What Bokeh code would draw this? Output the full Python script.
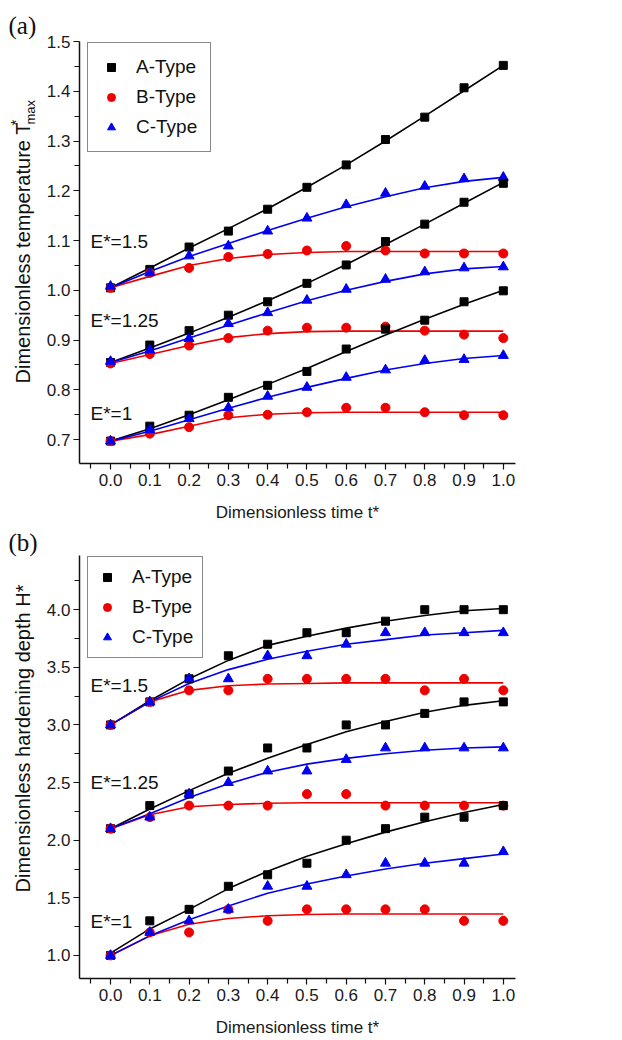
import math
from bokeh.plotting import figure
from bokeh.layouts import column, row
from bokeh.models import Range1d, FixedTicker, NumeralTickFormatter, Label, Legend, LegendItem, Title
from bokeh.embed import file_html
from bokeh.resources import INLINE

# ---------------- data ----------------
t = [0.0, 0.1, 0.2, 0.3, 0.4, 0.5, 0.6, 0.7, 0.8, 0.9, 1.0]

x_major = [0.0, 0.1, 0.2, 0.3, 0.4, 0.5, 0.6, 0.7, 0.8, 0.9, 1.0]
x_minor = [-0.05, 0.05, 0.15, 0.25, 0.35, 0.45, 0.55, 0.65, 0.75, 0.85, 0.95]
ya_major = [0.7, 0.8, 0.9, 1.0, 1.1, 1.2, 1.3, 1.4, 1.5]
ya_minor = [0.75, 0.85, 0.95, 1.05, 1.15, 1.25, 1.35, 1.45]
yb_major = [1.0, 1.5, 2.0, 2.5, 3.0, 3.5, 4.0]
yb_minor = [1.25, 1.75, 2.25, 2.75, 3.25, 3.75, 4.25]

series_names = ["A-Type", "B-Type", "C-Type"]
e_labels = ["E*=1.5", "E*=1.25", "E*=1"]

# (a) dimensionless max temperature
a_A15 = [1.005, 1.042, 1.087, 1.119, 1.163, 1.207, 1.252, 1.303, 1.348, 1.407, 1.452]
a_A15_fit = [1.005, 1.045, 1.085, 1.124, 1.164, 1.207, 1.252, 1.300, 1.350, 1.401, 1.452]
a_B15 = [1.005, 1.035, 1.045, 1.067, 1.073, 1.080, 1.089, 1.080, 1.074, 1.074, 1.074]
a_B15_fit = [1.005, 1.028, 1.050, 1.064, 1.072, 1.076, 1.078, 1.078, 1.078, 1.078, 1.078]
a_C15 = [1.008, 1.035, 1.069, 1.089, 1.119, 1.145, 1.172, 1.195, 1.209, 1.224, 1.227]
a_C15_fit = [1.005, 1.038, 1.068, 1.094, 1.120, 1.145, 1.168, 1.188, 1.206, 1.219, 1.227]

a_A125 = [0.855, 0.890, 0.919, 0.950, 0.977, 1.014, 1.051, 1.098, 1.133, 1.177, 1.215]
a_A125_fit = [0.855, 0.884, 0.914, 0.946, 0.979, 1.014, 1.052, 1.092, 1.133, 1.175, 1.217]
a_B125 = [0.853, 0.872, 0.889, 0.904, 0.919, 0.925, 0.925, 0.927, 0.919, 0.911, 0.904]
a_B125_fit = [0.853, 0.871, 0.889, 0.905, 0.913, 0.917, 0.918, 0.918, 0.918, 0.918, 0.918]
a_C125 = [0.857, 0.880, 0.903, 0.933, 0.955, 0.980, 1.002, 1.022, 1.037, 1.045, 1.047]
a_C125_fit = [0.855, 0.878, 0.904, 0.930, 0.955, 0.979, 1.000, 1.018, 1.033, 1.043, 1.048]

a_A1 = [0.697, 0.727, 0.749, 0.785, 0.809, 0.837, 0.882, 0.922, 0.940, 0.977, 0.999]
a_A1_fit = [0.697, 0.722, 0.750, 0.780, 0.811, 0.843, 0.877, 0.910, 0.942, 0.972, 1.000]
a_B1 = [0.697, 0.712, 0.725, 0.749, 0.750, 0.755, 0.764, 0.764, 0.755, 0.749, 0.749]
a_B1_fit = [0.697, 0.710, 0.727, 0.744, 0.751, 0.754, 0.755, 0.755, 0.755, 0.755, 0.755]
a_C1 = [0.697, 0.720, 0.742, 0.764, 0.787, 0.805, 0.825, 0.840, 0.859, 0.861, 0.869]
a_C1_fit = [0.697, 0.717, 0.740, 0.763, 0.785, 0.805, 0.823, 0.840, 0.853, 0.863, 0.869]

# (b) dimensionless hardening depth
b_A15 = [3.0, 3.2, 3.4, 3.6, 3.7, 3.8, 3.8, 3.9, 4.0, 4.0, 4.0]
b_A15_fit = [3.0, 3.21, 3.40, 3.56, 3.69, 3.77, 3.84, 3.90, 3.95, 3.99, 4.01]
b_B15 = [3.0, 3.2, 3.3, 3.3, 3.4, 3.4, 3.4, 3.4, 3.3, 3.4, 3.3]
b_B15_fit = [3.0, 3.2, 3.30, 3.34, 3.355, 3.36, 3.365, 3.365, 3.365, 3.365, 3.365]
b_C15 = [3.0, 3.2, 3.4, 3.4, 3.6, 3.6, 3.7, 3.8, 3.8, 3.8, 3.8]
b_C15_fit = [3.0, 3.2, 3.36, 3.48, 3.57, 3.64, 3.70, 3.74, 3.78, 3.80, 3.82]

b_A125 = [2.1, 2.3, 2.4, 2.6, 2.8, 2.8, 3.0, 3.0, 3.1, 3.2, 3.2]
b_A125_fit = [2.1, 2.27, 2.43, 2.58, 2.71, 2.83, 2.94, 3.03, 3.11, 3.17, 3.21]
b_B125 = [2.1, 2.2, 2.3, 2.3, 2.3, 2.4, 2.4, 2.3, 2.3, 2.3, 2.3]
b_B125_fit = [2.1, 2.22, 2.29, 2.31, 2.32, 2.325, 2.325, 2.325, 2.325, 2.325, 2.325]
b_C125 = [2.1, 2.2, 2.4, 2.5, 2.6, 2.6, 2.7, 2.8, 2.8, 2.8, 2.8]
b_C125_fit = [2.1, 2.23, 2.37, 2.49, 2.59, 2.66, 2.71, 2.75, 2.78, 2.80, 2.81]

b_A1 = [1.0, 1.3, 1.4, 1.6, 1.7, 1.8, 2.0, 2.1, 2.2, 2.2, 2.3]
b_A1_fit = [1.02, 1.23, 1.40, 1.58, 1.73, 1.86, 1.97, 2.07, 2.16, 2.24, 2.31]
b_B1 = [1.0, 1.2, 1.2, 1.4, 1.3, 1.4, 1.4, 1.4, 1.4, 1.3, 1.3]
b_B1_fit = [1.0, 1.17, 1.27, 1.32, 1.345, 1.355, 1.36, 1.36, 1.36, 1.36, 1.36]
b_C1 = [1.0, 1.2, 1.3, 1.4, 1.6, 1.6, 1.7, 1.8, 1.8, 1.8, 1.9]
b_C1_fit = [1.0, 1.17, 1.31, 1.43, 1.54, 1.62, 1.69, 1.75, 1.80, 1.84, 1.88]

# ---------------- styling ----------------
FONT = "Liberation Sans"
COLORS = ["black", "#ee0000", "#0000ee"]
MARKERS = ["square", "circle", "triangle"]
SIZES = [8, 9, 10]

LAB_W = 40          # width of the narrow strip holding panel tag + y title
FRAME_W = 436
X0, X1 = -0.079, 1.031
FRAME_LEFT = 79     # page column of the y axis line


def px_to_x(px):
    return X0 + (px - FRAME_LEFT) / FRAME_W * (X1 - X0)


def make_strip(height, top, bottom, yrange, tag, tag_standoff, parts):
    """Narrow figure sharing the panel's vertical frame; carries the tag and rotated y title.
    parts rows are measured in pixels from the frame top."""
    s = figure(width=LAB_W, height=height, output_backend="svg", toolbar_location=None,
               x_range=Range1d(0, LAB_W), y_range=Range1d(*yrange),
               x_axis_type=None, y_axis_type=None,
               min_border_left=0, min_border_right=0,
               min_border_top=top, min_border_bottom=bottom)
    s.outline_line_color = None
    s.xgrid.visible = False
    s.ygrid.visible = False
    s.add_layout(Title(text=tag, text_font="Liberation Serif", text_font_size="25px",
                       text_font_style="normal", text_color="#111111",
                       align="left", offset=8, standoff=tag_standoff), "above")
    fh = height - top - bottom
    ypp = (yrange[1] - yrange[0]) / fh
    for (txt, xc, row_from_frame_top, size) in parts:
        s.add_layout(Label(x=xc, y=yrange[1] - row_from_frame_top * ypp, text=txt,
                           text_font=FONT, text_font_size=size, angle=math.pi / 2,
                           text_baseline="middle", text_align="left",
                           text_color="#111111"))
    return s


def make_panel(height, top, bottom, yrange, ymaj, ymin, groups, elabel_y,
               legend_pad, label_standoff):
    w = 622 - LAB_W
    left = FRAME_LEFT - LAB_W
    p = figure(width=w, height=height, output_backend="svg", toolbar_location=None,
               x_range=Range1d(X0, X1), y_range=Range1d(*yrange),
               min_border_left=left, min_border_right=w - left - FRAME_W,
               min_border_top=top, min_border_bottom=bottom)
    p.outline_line_color = None
    p.xgrid.visible = False
    p.ygrid.visible = False
    p.background_fill_color = "white"
    p.border_fill_color = "white"

    fh = height - top - bottom

    p.xaxis.ticker = FixedTicker(ticks=x_major, minor_ticks=x_minor)
    p.yaxis.ticker = FixedTicker(ticks=ymaj, minor_ticks=ymin)
    for ax in (p.xaxis, p.yaxis):
        ax.formatter = NumeralTickFormatter(format="0.0")
        ax.axis_line_color = "#111111"
        ax.axis_line_width = 1.5
        ax.major_tick_line_color = "#111111"
        ax.minor_tick_line_color = "#111111"
        ax.major_tick_line_width = 1.2
        ax.minor_tick_line_width = 1.2
        ax.major_tick_in = 0
        ax.major_tick_out = 6
        ax.minor_tick_in = 0
        ax.minor_tick_out = 5
        ax.major_label_text_font = FONT
        ax.major_label_text_font_size = "17px"
        ax.major_label_text_color = "#1a1a1a"
    p.xaxis.major_label_standoff = 4
    p.yaxis.major_label_standoff = 3
    p.xaxis.axis_label = "Dimensionless time t*"
    p.xaxis.axis_label_text_font = FONT
    p.xaxis.axis_label_text_font_size = "17px"
    p.xaxis.axis_label_text_font_style = "normal"
    p.xaxis.axis_label_text_color = "#1a1a1a"
    p.xaxis.axis_label_standoff = label_standoff

    legend_renderers = [None, None, None]
    for (ys, fits) in groups:
        for k in range(3):
            p.line(t, fits[k], line_color=COLORS[k], line_width=1.6)
        for k in range(3):
            r = p.scatter(t, ys[k], marker=MARKERS[k], size=SIZES[k],
                          fill_color=COLORS[k], line_color=COLORS[k])
            if legend_renderers[k] is None:
                legend_renderers[k] = r

    for lab, yy in zip(e_labels, elabel_y):
        p.add_layout(Label(x=px_to_x(90), y=yy, text=lab, text_font=FONT,
                           text_font_size="19px", text_baseline="middle",
                           text_align="left", text_color="#111111"))

    legend = Legend(items=[LegendItem(label=series_names[k], renderers=[legend_renderers[k]])
                           for k in range(3)],
                    label_text_font=FONT, label_text_font_size="19px",
                    label_text_color="#111111", label_width=60,
                    glyph_width=20, glyph_height=20, spacing=8, padding=legend_pad,
                    margin=0, label_standoff=15,
                    border_line_color="#111111", border_line_width=1.2,
                    background_fill_color="white", background_fill_alpha=1.0)
    leg_h = 3 * 23 + 2 * 8 + 2 * legend_pad
    legend.location = (8, fh - leg_h)
    p.add_layout(legend)
    return p


groups_a = [
    ([a_A15, a_B15, a_C15], [a_A15_fit, a_B15_fit, a_C15_fit]),
    ([a_A125, a_B125, a_C125], [a_A125_fit, a_B125_fit, a_C125_fit]),
    ([a_A1, a_B1, a_C1], [a_A1_fit, a_B1_fit, a_C1_fit]),
]
groups_b = [
    ([b_A15, b_B15, b_C15], [b_A15_fit, b_B15_fit, b_C15_fit]),
    ([b_A125, b_B125, b_C125], [b_A125_fit, b_B125_fit, b_C125_fit]),
    ([b_A1, b_B1, b_C1], [b_A1_fit, b_B1_fit, b_C1_fit]),
]

# E* label heights (data units)
a_elabel_y = [1.098, 0.939, 0.753]
b_elabel_y = [3.345, 2.504, 1.294]

H1, T1, B1 = 524, 41, 61
H2, T2, B2 = 516, 31, 62
YA = (0.652, 1.5)
YB = (0.80, 4.47)

p1 = make_panel(H1, T1, B1, YA, ya_major, ya_minor, groups_a, a_elabel_y, 13, 14)
p2 = make_panel(H2, T2, B2, YB, yb_major, yb_minor, groups_b, b_elabel_y, 9, 14)

s1 = make_strip(H1, T1, B1, YA, "(a)", 6,
                [("Dimensionless temperature T", 22, 383 - 41, "20px"),
                 ("*", 15, 125 - 41, "15px"),
                 ("max", 30, 124 - 41, "13px")])
s2 = make_strip(H2, T2, B2, YB, "(b)", 0,
                [("Dimensionless hardening depth H*", 22, 892 - 555, "20px")])

layout = column(row(s1, p1, spacing=0), row(s2, p2, spacing=0), spacing=0)
open("out.html", "w").write(file_html(layout, INLINE))
